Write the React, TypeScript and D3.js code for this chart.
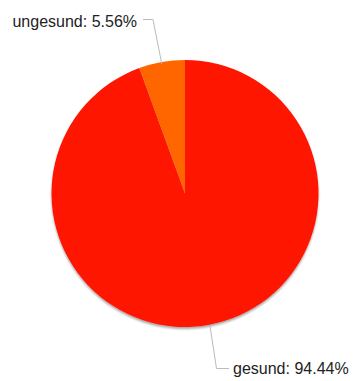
import React from "react";
import * as d3 from "d3";

const categories = ["gesund", "ungesund"];
const values = [94.44, 5.56];
const colors = ["#ff1500", "#ff6600"];

const W = 355;
const H = 381;
const cx = 185;
const cy = 193.5;
const R = 133.5;

export default function App() {
  const pie = d3.pie<number>().sort(null).value((d) => d)(values);
  const arc = d3.arc<d3.PieArcDatum<number>>().innerRadius(0).outerRadius(R);
  const total = d3.sum(values);

  const labels = pie.map((p, i) => {
    const mid = (p.startAngle + p.endAngle) / 2;
    const sx = Math.sin(mid) * R;
    const sy = -Math.cos(mid) * R;
    return { i, mid, sx, sy };
  });

  const ung = labels[1];

  return (
    <svg width={W} height={H} style={{ position: "absolute", left: 0, top: 0, fontFamily: "Arial, 'Liberation Sans', sans-serif" }}>
      <defs>
        <filter id="sh" x="-10%" y="-10%" width="120%" height="120%">
          <feGaussianBlur in="SourceAlpha" stdDeviation="1.2" />
          <feOffset dx="0" dy="1.5" />
          <feComponentTransfer>
            <feFuncA type="linear" slope="0.35" />
          </feComponentTransfer>
          <feMerge>
            <feMergeNode />
            <feMergeNode in="SourceGraphic" />
          </feMerge>
        </filter>
      </defs>
      <g transform={`translate(${cx},${cy})`} filter="url(#sh)">
        {pie.map((p, i) => (
          <path key={categories[i]} d={arc(p) || ""} fill={colors[i]} />
        ))}
      </g>
      <polyline
        points={`${143},${19.5} ${153},${19.5} ${cx + ung.sx},${cy + ung.sy + 2}`}
        fill="none"
        stroke="#bbbbbb"
        strokeWidth={1}
      />
      <text x={137} y={26.5} textAnchor="end" fontSize={16} fill="#222">
        {`${categories[1]}: ${((values[1] / total) * 100).toFixed(2)}%`}
      </text>
      <polyline
        points={`${210},${cy + R - 1} ${216.5},${368.5} ${229},${368.5}`}
        fill="none"
        stroke="#bbbbbb"
        strokeWidth={1}
      />
      <text x={233} y={373.5} textAnchor="start" fontSize={16} fill="#222">
        {`${categories[0]}: ${((values[0] / total) * 100).toFixed(2)}%`}
      </text>
    </svg>
  );
}
